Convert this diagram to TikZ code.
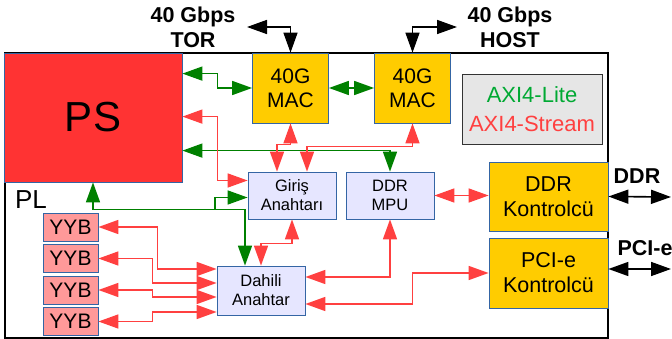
\documentclass[tikz,border=0pt]{standalone}
\usepackage{fontspec}
\setmainfont{Liberation Sans}
\usetikzlibrary{arrows.meta, positioning, calc}
\definecolor{psred}{RGB}{255, 51, 51}
\definecolor{yybpink}{RGB}{255, 153, 153}
\definecolor{macgold}{RGB}{255, 204, 0}
\definecolor{swlav}{RGB}{230, 230, 255}
\definecolor{boxedge}{RGB}{52, 101, 164}
\definecolor{litegreen}{RGB}{0, 128, 0}
\definecolor{axigreen}{RGB}{0, 169, 51}
\definecolor{streamred}{RGB}{255, 64, 64}
\definecolor{legendgray}{RGB}{230, 230, 230}
\tikzset{
  unit/.style={rectangle, draw=boxedge, line width=0.8pt, inner sep=0pt, align=center},
  psbox/.style={unit, fill=psred, minimum width=178pt, minimum height=129pt,
                font=\fontsize{42}{50}\selectfont},
  macbox/.style={unit, fill=macgold, minimum width=76pt, minimum height=70pt,
                 font=\fontsize{21}{24}\selectfont},
  ctlbox/.style={unit, fill=macgold, minimum width=119pt, minimum height=69pt,
                 font=\fontsize{21.5}{25}\selectfont},
  swbox/.style={unit, fill=swlav, minimum width=88pt, minimum height=#1,
                font=\fontsize{16.5}{19}\selectfont},
  swbox/.default=47pt,
  yybbox/.style={unit, fill=yybpink, minimum width=55pt, minimum height=28pt,
                 font=\fontsize{21}{24}\selectfont},
  legendbox/.style={rectangle, draw=black!80, line width=0.8pt, fill=legendgray,
                    minimum width=140pt, minimum height=70pt, align=center,
                    font=\fontsize{22}{29}\selectfont},
  biglabel/.style={align=center, font=\bfseries\fontsize{21.5}{25}\selectfont},
  bigtip/.tip={Triangle[length=20pt, width=14pt]},
  lite/.style={bigtip-bigtip, line width=1.6pt, draw=litegreen},
  stream/.style={bigtip-bigtip, line width=1.6pt, draw=streamred},
  extlink/.style={bigtip-bigtip, line width=1.6pt, draw=black},
}

\begin{document}
\begin{tikzpicture}[x=1pt, y=-1pt]
  \useasboundingbox (0,0) rectangle (672,339);
  % PL frame
  \draw[line width=1.2pt] (5,53) rectangle (608,338);

  % blocks
  \node[psbox] (ps) at (93,117.5) {PS};
  \node[font=\fontsize{26}{30}\selectfont] (pl) at (31,200) {PL};
  \node[macbox] (mactor) at (290.5,88) {40G\\MAC};
  \node[macbox] (machost) at (412.5,88) {40G\\MAC};
  \node[legendbox] (legend) at (532,109)
       {\textcolor{axigreen}{AXI4-Lite}\\\textcolor{streamred}{AXI4-Stream}};
  \node[swbox] (giris) at (292,195.5) {Giriş\\Anahtarı};
  \node[swbox] (ddrmpu) at (390,195.5) {DDR\\MPU};
  \node[swbox=49pt] (dahili) at (261,290.5) {Dahili\\Anahtar};
  \node[ctlbox] (ddrctl) at (548.5,196.5) {DDR\\Kontrolcü};
  \node[ctlbox, minimum height=70pt] (pcictl) at (548.5,273) {PCI-e\\Kontrolcü};
  \node[yybbox] (yyb1) at (70.5,227) {YYB};
  \node[yybbox] (yyb2) at (70.5,258.5) {YYB};
  \node[yybbox] (yyb3) at (70.5,290) {YYB};
  \node[yybbox] (yyb4) at (70.5,321.5) {YYB};

  % outside links
  \node[biglabel] (torlbl) at (193,27.6) {40 Gbps\\TOR};
  \node[biglabel] (hostlbl) at (510,27.6) {40 Gbps\\HOST};
  \node[biglabel] (ddrlbl) at (637,176) {DDR};
  \node[biglabel] (pcielbl) at (645,248) {PCI-e};
  \coordinate (torend) at (247,27);
  \coordinate (hostend) at (457,27);
  \coordinate (ddrend) at (671,197);
  \coordinate (pcieend) at (671,269);
  \draw[extlink] (torend) -| (mactor.north);
  \draw[extlink] (machost.north) |- (hostend);
  \draw[extlink] (ddrctl.east) -- (ddrend);
  \draw[extlink] ($(pcictl.east)+(0,-4)$) -- (pcieend);

  % AXI4-Lite
  \draw[lite] ($(ps.north east)+(0,21)$) -- ++(35,0) |- (mactor.west);
  \draw[lite] (mactor) -- (machost);
  \draw[lite] ($(ps.north east)+(0,98)$) -| (ddrmpu.north);
  \draw[lite] (ps.south) |- ($(dahili.north)+(-16,-56)$) -- ($(dahili.north)+(-16,0)$);
  \coordinate (gsplit) at (215,210);
  \draw[lite, bigtip-] ($(giris.west)+(0,2)$) -| (gsplit);

  % AXI4-Stream
  \draw[stream] ($(ps.north east)+(0,64)$) -- ++(35,0) |- ($(giris.west)+(0,-15)$);
  \draw[stream] (mactor.south) -- ++(0,21) -| ($(giris.north)+(-15,0)$);
  \draw[stream] (machost.south) -- ++(0,23) -| ($(giris.north)+(15,0)$);
  \draw[stream] (giris.south) -- ++(0,24) -| (dahili.north);
  \draw[stream] (ddrmpu.south) |- ($(dahili.east)+(0,-13.5)$);
  \draw[stream] (pcictl.west) -- ++(-76,0) |- ($(dahili.east)+(0,13.5)$);
  \draw[stream] (ddrmpu.east) -- (ddrmpu.east -| ddrctl.west);
  \draw[stream] (yyb1.east) -- ++(59,0) |- ($(dahili.west)+(0,-21.5)$);
  \draw[stream] (yyb2.east) -- ++(54,0) |- ($(dahili.west)+(0,-7.5)$);
  \draw[stream] (yyb3.east) -- ++(54,0) |- ($(dahili.west)+(0,6.5)$);
  \draw[stream] (yyb4.east) -- ++(54,0) |- ($(dahili.west)+(0,21.5)$);
\end{tikzpicture}
\end{document}
